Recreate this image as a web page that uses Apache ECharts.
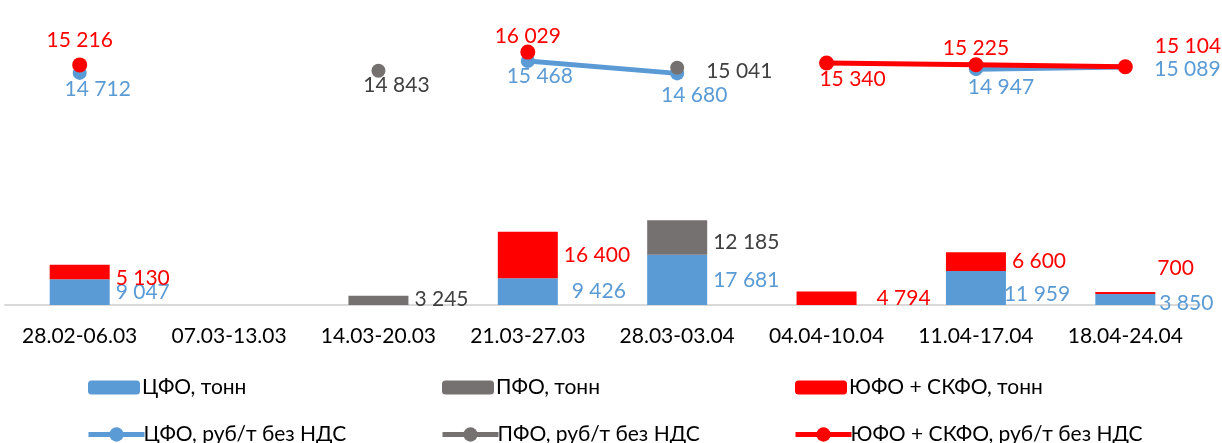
<!DOCTYPE html>
<html><head><meta charset="utf-8">
<script src="https://cdn.jsdelivr.net/npm/echarts@6/dist/echarts.min.js"></script>
<style>html,body{margin:0;padding:0;background:#fff}#c{width:1222px;height:443px}</style>
</head><body><div id="c"></div>
<script>
const categories = ['28.02-06.03','07.03-13.03','14.03-20.03','21.03-27.03','28.03-03.04','04.04-10.04','11.04-17.04','18.04-24.04'];
const cfoTons   = [9047, null, null, 9426, 17681, null, 11959, 3850];
const pfoTons   = [null, null, 3245, null, 12185, null, null, null];
const yugTons   = [5130, null, null, 16400, null, 4794, 6600, 700];
const cfoPrice  = [14712, null, null, 15468, 14680, null, 14947, 15089];
const pfoPrice  = [null, null, 14843, null, 15041, null, null, null];
const yugPrice  = [15216, null, null, 16029, null, 15340, 15225, 15104];

const BLUE = '#5B9BD5', GRAY = '#767171', RED = '#FF0000';
const FONT = 'Lato, "Open Sans", sans-serif';
const numFmt = v => String(v).replace(/\B(?=(\d{3})+(?!\d))/g, ' ');

function withLabels(arr, overrides) {
  return arr.map((v, i) => {
    if (v == null) return null;
    const o = overrides[i];
    return o ? { value: v, label: o } : v;
  });
}

const barLabel = color => ({
  show: true, position: 'right', distance: 6, color: color, fontSize: 21, fontFamily: FONT,
  formatter: p => numFmt(p.value)
});
const lineLabel = (color, pos, dist) => ({
  show: true, position: pos, distance: dist, color: color, fontSize: 21, fontFamily: FONT,
  formatter: p => numFmt(p.value)
});

const chart = echarts.init(document.getElementById('c'), null, {renderer: 'canvas'});

const legendBase = (name, left, top, isLine) => ({
  data: [name], left: left, top: top, itemWidth: isLine ? 56 : 52, itemHeight: isLine ? 18 : 14, itemGap: 0,
  lineStyle: { width: 5 },
  textStyle: { fontFamily: FONT, fontSize: 21, color: '#000', padding: [0, 0, 0, isLine ? -6 : -3] },
  selectedMode: false
});

chart.setOption({
  animation: false,
  backgroundColor: '#fff',
  grid: { left: 5, right: 22, top: 21, bottom: 138 },
  legend: [
    legendBase('ЦФО, тонн', 83, 372, false),
    legendBase('ПФО, тонн', 437, 372, false),
    legendBase('ЮФО + СКФО, тонн', 790, 372, false),
    legendBase('ЦФО, руб/т без НДС', 81, 419, true),
    legendBase('ПФО, руб/т без НДС', 435, 419, true),
    legendBase('ЮФО + СКФО, руб/т без НДС', 788, 419, true)
  ],
  xAxis: {
    type: 'category', data: categories, boundaryGap: true,
    axisLine: { lineStyle: { color: '#D9D9D9', width: 2 } },
    axisTick: { show: false },
    axisLabel: { color: '#000', fontSize: 21, fontFamily: FONT, margin: 21, interval: 0 }
  },
  yAxis: [
    { type: 'value', min: 0, max: 100000, show: false, splitLine: { show: false } },
    { type: 'value', min: 0, max: 18000, show: false, splitLine: { show: false } }
  ],
  series: [
    { name: 'ЦФО, тонн', type: 'bar', stack: 't', barWidth: 60, yAxisIndex: 0,
      itemStyle: { color: BLUE }, label: barLabel(BLUE),
      data: withLabels(cfoTons, { 3: { offset: [8, 0] }, 6: { offset: [-8, 6] }, 7: { offset: [-2, 4] } }) },
    { name: 'ПФО, тонн', type: 'bar', stack: 't', barWidth: 60, yAxisIndex: 0,
      itemStyle: { color: GRAY }, label: barLabel('#404040'),
      data: withLabels(pfoTons, { 2: { offset: [0, -1] }, 4: { offset: [0, 5] } }) },
    { name: 'ЮФО + СКФО, тонн', type: 'bar', stack: 't', barWidth: 60, yAxisIndex: 0,
      itemStyle: { color: RED }, label: barLabel(RED),
      data: withLabels(yugTons, { 0: { offset: [0, 6] }, 5: { offset: [14, 0] }, 7: { offset: [-4, -25] } }) },
    { name: 'ЦФО, руб/т без НДС', type: 'line', yAxisIndex: 1, connectNulls: false,
      symbol: 'circle', symbolSize: 14, showAllSymbol: true,
      lineStyle: { color: BLUE, width: 5 }, itemStyle: { color: BLUE },
      label: lineLabel(BLUE, 'bottom', 0),
      data: withLabels(cfoPrice, {
        0: { offset: [18, -1] }, 3: { offset: [12, -2] }, 4: { offset: [17, 4] },
        6: { offset: [25, 1] }, 7: { position: 'right', distance: 22, offset: [0, 2] } }) },
    { name: 'ПФО, руб/т без НДС', type: 'line', yAxisIndex: 1, connectNulls: false,
      symbol: 'circle', symbolSize: 14, showAllSymbol: true,
      lineStyle: { color: GRAY, width: 5 }, itemStyle: { color: GRAY },
      label: lineLabel('#404040', 'bottom', 0),
      data: withLabels(pfoPrice, { 2: { offset: [18, -3] }, 4: { position: 'right', distance: 22, offset: [0, 4] } }) },
    { name: 'ЮФО + СКФО, руб/т без НДС', type: 'line', yAxisIndex: 1, connectNulls: false,
      symbol: 'circle', symbolSize: 15, showAllSymbol: true,
      lineStyle: { color: RED, width: 5 }, itemStyle: { color: RED },
      label: lineLabel(RED, 'top', 0),
      data: withLabels(yugPrice, {
        0: { distance: 7 }, 3: { offset: [0, 2] }, 5: { position: 'bottom', distance: 0, offset: [26, -2] },
        6: { offset: [0, 1] }, 7: { position: 'right', distance: 22, offset: [0, -20] } }) }
  ]
});
</script></body></html>
